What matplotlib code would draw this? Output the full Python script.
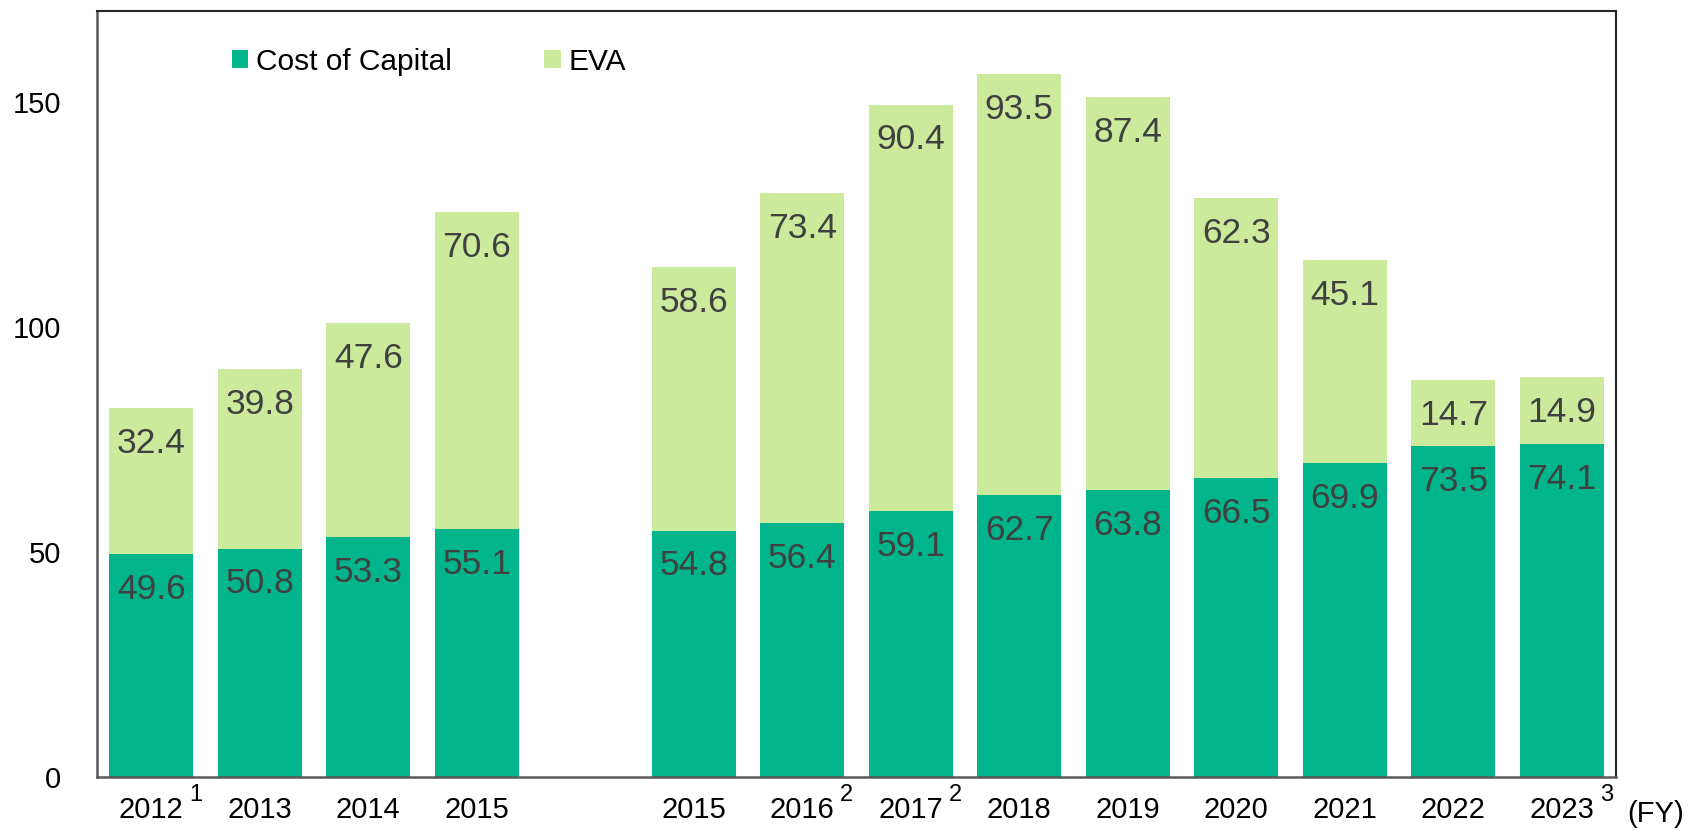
import numpy as np
import matplotlib.pyplot as plt

plt.rcParams['font.family'] = ['Liberation Sans', 'DejaVu Sans']

# data
years = ["2012", "2013", "2014", "2015", "2015", "2016", "2017",
         "2018", "2019", "2020", "2021", "2022", "2023"]
notes = ["1", "", "", "", "", "2", "2", "", "", "", "", "", "3"]
cost_of_capital = [49.6, 50.8, 53.3, 55.1, 54.8, 56.4, 59.1,
                   62.7, 63.8, 66.5, 69.9, 73.5, 74.1]
eva = [32.4, 39.8, 47.6, 70.6, 58.6, 73.4, 90.4,
       93.5, 87.4, 62.3, 45.1, 14.7, 14.9]

dark = "#00B48C"
light = "#CCEA9C"
label_col = "#404040"

# one empty slot between the old and new series
x = np.arange(len(years)) + (np.arange(len(years)) >= 4)

fig = plt.figure(figsize=(16.92, 8.31), dpi=100)
ax = fig.add_axes([97 / 1692, 54 / 831, (1616 - 97) / 1692, (777 - 11) / 831])

b1 = ax.bar(x, cost_of_capital, width=0.77, color=dark, label="Cost of Capital")
b2 = ax.bar(x, eva, width=0.77, bottom=cost_of_capital, color=light, label="EVA")

# value labels just inside the top of each segment
for xi, c, e in zip(x, cost_of_capital, eva):
    ax.annotate(f"{c:.1f}", (xi, c), xytext=(0, -25.5), textcoords="offset points",
                ha="center", va="center", fontsize=25.5, color=label_col)
    ax.annotate(f"{e:.1f}", (xi, c + e), xytext=(0, -25.5), textcoords="offset points",
                ha="center", va="center", fontsize=25.5, color=label_col)

ax.set_xlim(-0.5, 13.5)
ax.set_ylim(0, 170.3)
ax.set_yticks([0, 50, 100, 150])
ax.set_xticks(x)
ax.set_xticklabels(years)
ax.tick_params(axis="both", length=0, labelsize=21)
ax.tick_params(axis="y", pad=26)
ax.tick_params(axis="x", pad=14)

# footnote markers on the year labels
for xi, n in zip(x, notes):
    if n:
        ax.annotate(n, (xi, 0), xycoords=("data", "axes fraction"),
                    xytext=(32, -13), textcoords="offset points",
                    ha="center", va="center", fontsize=17, annotation_clip=False)
ax.annotate("(FY)", (x[-1], 0), xycoords=("data", "axes fraction"),
            xytext=(67.7, -26.6), textcoords="offset points",
            ha="center", va="center", fontsize=21, annotation_clip=False)

for side in ["left", "bottom"]:
    ax.spines[side].set_color("#595959")
    ax.spines[side].set_linewidth(1.8)
for side in ["top", "right"]:
    ax.spines[side].set_color("#262626")
    ax.spines[side].set_linewidth(1.5)

fig.legend(handles=[b1, b2], loc="center left",
           bbox_to_anchor=(232 / 1692, 1 - 62 / 831), ncol=2, frameon=False,
           fontsize=21.5, handlelength=0.55, handleheight=0.55,
           handletextpad=0.25, columnspacing=3.1, borderpad=0, borderaxespad=0)

fig.savefig("out.png", dpi=100)
